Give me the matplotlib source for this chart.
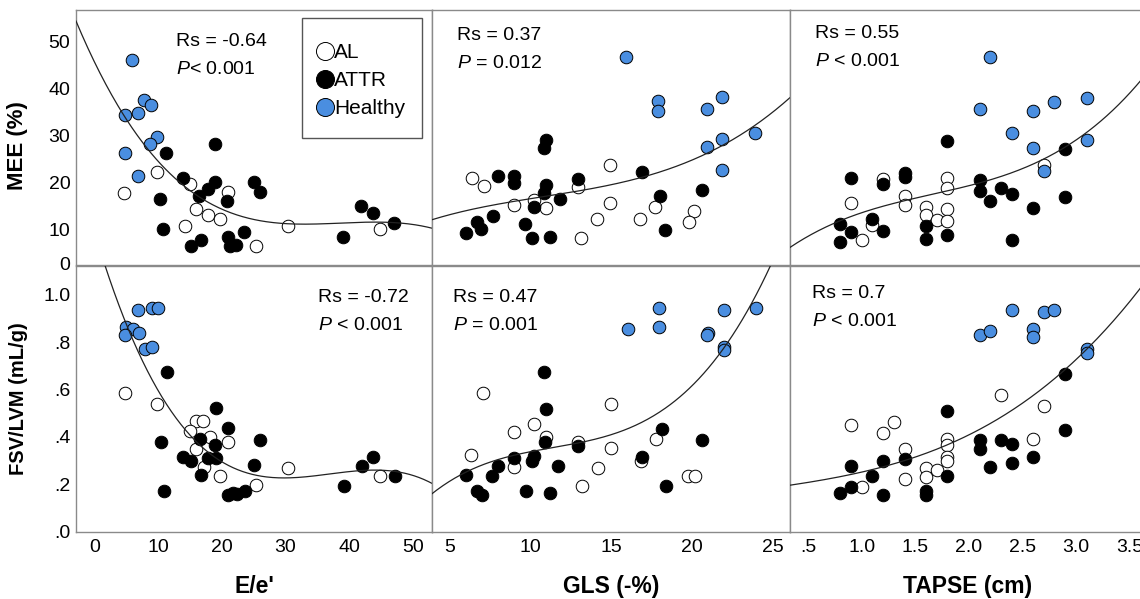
import matplotlib
matplotlib.use('Agg')
import matplotlib.pyplot as plt
from matplotlib.lines import Line2D
from matplotlib.patches import Rectangle
import numpy as np

plt.rcParams['font.family'] = ['Liberation Sans', 'DejaVu Sans']
plt.rcParams['mathtext.fontset'] = 'custom'
plt.rcParams['mathtext.rm'] = 'Liberation Sans'
plt.rcParams['mathtext.it'] = 'Liberation Sans:italic'

# data: (x, y) per group and panel
# E/e' vs MEE
ee_mee_al = [(4.65, 17.8), (9.8, 22.3), (15.0, 19.7), (20.9, 17.9), (15.9, 14.3), (17.9, 13.0),
             (19.7, 12.1), (14.2, 10.7), (25.4, 6.4), (30.4, 10.7), (44.8, 10.0)]
ee_mee_attr = [(11.2, 26.2), (19.0, 28.2), (13.9, 20.9), (19.0, 20.1), (17.9, 18.7), (16.5, 17.1),
               (10.3, 16.5), (20.8, 16.1), (25.0, 20.1), (26.0, 17.9), (10.8, 10.0), (15.1, 6.4),
               (16.7, 7.7), (20.9, 8.4), (21.3, 6.4), (22.2, 6.6), (23.5, 9.5), (39.0, 8.3),
               (41.9, 15.0), (43.7, 13.5), (47.0, 11.4)]
ee_mee_healthy = [(5.9, 46.2), (7.8, 37.5), (8.9, 36.4), (4.8, 34.4), (6.8, 34.7), (9.9, 29.7),
                  (8.8, 28.2), (4.8, 26.3), (6.8, 21.4)]

# GLS vs MEE
gls_mee_al = [(6.4, 21.0), (7.1, 19.2), (9.0, 15.2), (10.2, 16.2), (10.95, 14.6), (12.95, 19.1),
              (14.9, 23.7), (14.9, 15.7), (14.1, 12.3), (13.1, 8.2), (16.8, 12.2), (17.7, 14.8),
              (20.1, 13.8), (19.8, 11.5)]
gls_mee_attr = [(6.0, 9.3), (6.7, 11.6), (6.95, 10.0), (7.7, 12.8), (8.0, 21.4), (9.0, 21.4),
                (9.0, 19.9), (9.65, 11.1), (10.1, 8.2), (10.2, 14.8), (10.8, 27.3), (10.95, 29.0),
                (10.95, 19.4), (10.85, 17.8), (11.2, 8.3), (11.8, 16.4), (12.95, 20.7), (16.9, 22.3),
                (18.0, 17.2), (18.3, 9.9), (20.6, 18.4)]
gls_mee_healthy = [(15.9, 46.8), (17.9, 37.4), (17.9, 35.2), (20.9, 35.6), (21.85, 38.3),
                   (23.9, 30.6), (21.85, 29.2), (20.9, 27.6), (21.85, 22.6)]

# TAPSE vs MEE
tapse_mee_al = [(0.9, 15.7), (1.0, 7.7), (1.1, 10.9), (1.2, 20.7), (1.4, 17.0), (1.4, 15.2),
                (1.6, 14.7), (1.6, 13.0), (1.7, 12.0), (1.8, 20.9), (1.8, 18.9), (1.8, 14.3),
                (1.8, 11.8), (2.7, 23.7)]
tapse_mee_attr = [(0.9, 21.0), (0.8, 11.1), (0.8, 7.4), (0.9, 9.5), (1.1, 12.3), (1.2, 19.6),
                  (1.2, 9.6), (1.4, 21.9), (1.4, 21.2), (1.6, 10.6), (1.6, 7.9), (1.8, 28.9),
                  (1.8, 8.8), (2.1, 20.5), (2.1, 18.2), (2.2, 16.1), (2.3, 18.9), (2.4, 17.5),
                  (2.4, 7.7), (2.6, 14.5), (2.9, 27.1), (2.9, 16.9)]
tapse_mee_healthy = [(2.2, 46.8), (2.1, 35.6), (2.6, 35.2), (2.8, 37.2), (3.1, 38.1),
                     (2.4, 30.5), (2.6, 27.3), (3.1, 29.0), (2.7, 22.5)]

# E/e' vs FSV/LVM
ee_fsv_al = [(4.8, 0.585), (9.8, 0.539), (16.0, 0.465), (17.0, 0.468), (15.0, 0.423), (18.1, 0.398),
             (21.0, 0.378), (15.9, 0.35), (17.2, 0.274), (19.7, 0.235), (25.3, 0.194), (30.4, 0.267),
             (44.9, 0.232)]
ee_fsv_attr = [(11.4, 0.672), (19.1, 0.52), (20.9, 0.436), (10.5, 0.378), (16.6, 0.391), (18.9, 0.364),
               (26.0, 0.387), (13.9, 0.315), (15.1, 0.299), (17.9, 0.308), (19.1, 0.308), (25.0, 0.281),
               (16.7, 0.239), (10.9, 0.17), (20.9, 0.152), (21.7, 0.163), (22.4, 0.156), (23.6, 0.17),
               (39.1, 0.191), (42.0, 0.277), (43.8, 0.315), (47.1, 0.235)]
ee_fsv_healthy = [(6.9, 0.935), (9.0, 0.945), (10.0, 0.945), (5.0, 0.862), (6.1, 0.855),
                  (7.05, 0.838), (4.8, 0.83), (7.95, 0.769), (9.0, 0.779)]

# GLS vs FSV/LVM
gls_fsv_al = [(6.3, 0.322), (7.05, 0.585), (9.0, 0.419), (9.0, 0.271), (10.2, 0.454), (10.95, 0.398),
              (12.95, 0.378), (13.2, 0.191), (14.2, 0.267), (14.95, 0.539), (14.95, 0.354),
              (16.85, 0.299), (17.75, 0.391), (19.75, 0.232), (20.2, 0.232)]
gls_fsv_attr = [(6.0, 0.239), (6.7, 0.17), (7.0, 0.152), (7.6, 0.235), (8.0, 0.277), (9.0, 0.308),
                (9.7, 0.17), (10.1, 0.299), (10.2, 0.318), (10.8, 0.672), (10.95, 0.516), (10.9, 0.378),
                (11.2, 0.16), (11.7, 0.277), (12.95, 0.36), (16.9, 0.313), (18.1, 0.433), (18.4, 0.191),
                (20.6, 0.387)]
gls_fsv_healthy = [(16.0, 0.855), (17.95, 0.945), (17.95, 0.862), (21.0, 0.838), (20.9, 0.83),
                   (21.95, 0.935), (21.95, 0.779), (21.95, 0.765), (23.95, 0.945)]

# TAPSE vs FSV/LVM
tapse_fsv_al = [(0.9, 0.449), (1.0, 0.188), (1.2, 0.415), (1.3, 0.463), (1.4, 0.35), (1.4, 0.221),
                (1.6, 0.267), (1.6, 0.23), (1.7, 0.26), (1.8, 0.391), (1.8, 0.364), (1.8, 0.315),
                (1.8, 0.299), (2.3, 0.578), (2.7, 0.532), (2.6, 0.391)]
tapse_fsv_attr = [(0.8, 0.163), (0.9, 0.188), (0.9, 0.277), (1.1, 0.232), (1.2, 0.299),
                  (1.2, 0.152), (1.4, 0.304), (1.6, 0.17), (1.6, 0.152), (1.8, 0.509), (1.8, 0.232),
                  (2.1, 0.385), (2.1, 0.35), (2.2, 0.274), (2.3, 0.385), (2.4, 0.371), (2.4, 0.29),
                  (2.6, 0.313), (2.9, 0.664), (2.9, 0.429)]
tapse_fsv_healthy = [(2.1, 0.83), (2.2, 0.848), (2.4, 0.935), (2.6, 0.855), (2.6, 0.82),
                     (2.7, 0.927), (2.8, 0.935), (3.1, 0.772), (3.1, 0.755)]

# points (a cubic is fitted through them)
ee_mee_fit = [(-2.87, 54.3), (4.45, 34.4), (8.5, 27.6), (14.5, 19.1), (19.2, 14.5), (24.9, 11.6),
              (30.4, 11.1), (37.5, 11.4), (44.8, 12.0), (52.6, 10.1)]
gls_mee_fit = [(3.87, 12.0), (9.3, 16.2), (13.4, 18.4), (17.5, 21.6), (20.8, 26.2), (23.65, 31.5),
               (25.95, 37.8)]
tapse_mee_fit = [(0.33, 6.3), (0.85, 12.0), (1.48, 16.6), (2.1, 20.1), (2.73, 25.5), (3.2, 31.9),
                 (3.6, 41.8)]
ee_fsv_fit = [(1.68, 1.12), (5.86, 0.84), (10.8, 0.537), (14.5, 0.426), (19.7, 0.30), (24.9, 0.246),
              (30.2, 0.229), (37.5, 0.239), (42.7, 0.26), (47.9, 0.246), (53.0, 0.205)]
gls_fsv_fit = [(3.9, 0.152), (6.0, 0.26), (9.3, 0.329), (13.0, 0.37), (15.9, 0.426), (18.7, 0.537),
               (21.6, 0.744), (23.65, 0.98), (24.9, 1.117)]
tapse_fsv_fit = [(0.33, 0.2), (0.86, 0.225), (1.33, 0.288), (1.79, 0.378), (2.26, 0.474), (2.73, 0.606),
                 (3.1, 0.772), (3.6, 1.028)]

group_names = ['AL', 'ATTR', 'Healthy']
group_colors = ['white', 'black', '#4a8ee0']

stats_text = [['Rs = -0.64', r'$P$< 0.001'], ['Rs = 0.37', r'$P$ = 0.012'], ['Rs = 0.55', r'$P$ < 0.001'],
              ['Rs = -0.72', r'$P$ < 0.001'], ['Rs = 0.47', r'$P$ = 0.001'], ['Rs = 0.7', r'$P$ < 0.001']]

x_labels = ["E/e'", 'GLS (-%)', 'TAPSE (cm)']
y_labels = ['MEE (%)', 'FSV/LVM (mL/g)']

x_ticks = [[0, 10, 20, 30, 40, 50], [5, 10, 15, 20, 25], [0.5, 1.0, 1.5, 2.0, 2.5, 3.0, 3.5]]
x_ticklabels = [['0', '10', '20', '30', '40', '50'], ['5', '10', '15', '20', '25'],
                ['.5', '1.0', '1.5', '2.0', '2.5', '3.0', '3.5']]
mee_ticks = [2.75, 10, 20, 30, 40, 50]
mee_ticklabels = ['0', '10', '20', '30', '40', '50']
fsv_ticks = [0.0, 0.2, 0.4, 0.6, 0.8, 1.0]
fsv_ticklabels = ['.0', '.2', '.4', '.6', '.8', '1.0']

W, H = 1140, 599
cols = [(76, 432), (432, 790), (790, 1146)]
rows = [(10, 265), (266, 532)]
xlims = [(-2.87, 52.98), (3.9, 26.05), (0.329, 3.656)]
ylims = [(2.39, 56.76), (-0.003, 1.122)]

# text anchors (pixels): left x, centre y of the Rs line
text_pos = [(176, 42), (457, 36), (815, 34), (318, 297), (453, 297), (812, 293)]

panels = [
    [ee_mee_al, ee_mee_attr, ee_mee_healthy],
    [gls_mee_al, gls_mee_attr, gls_mee_healthy],
    [tapse_mee_al, tapse_mee_attr, tapse_mee_healthy],
    [ee_fsv_al, ee_fsv_attr, ee_fsv_healthy],
    [gls_fsv_al, gls_fsv_attr, gls_fsv_healthy],
    [tapse_fsv_al, tapse_fsv_attr, tapse_fsv_healthy],
]
fits = [ee_mee_fit, gls_mee_fit, tapse_mee_fit, ee_fsv_fit, gls_fsv_fit, tapse_fsv_fit]

fig = plt.figure(figsize=(W / 100, H / 100), dpi=100)

for i, groups in enumerate(panels):
    r, c = divmod(i, 3)
    l, rr = cols[c]
    t, b = rows[r]
    ax = fig.add_axes([l / W, 1 - b / H, (rr - l) / W, (b - t) / H])

    for pts, color, name in zip(groups, group_colors, group_names):
        x = [p[0] for p in pts]
        y = [p[1] for p in pts]
        ax.scatter(x, y, s=82, c=color, edgecolors='black', linewidths=0.7, zorder=3, label=name)

    # cubic fit line
    fx = [p[0] for p in fits[i]]
    fy = [p[1] for p in fits[i]]
    coef = np.polyfit(fx, fy, 3)
    xs = np.linspace(xlims[c][0], xlims[c][1], 300)
    ax.plot(xs, np.polyval(coef, xs), color='#222222', lw=0.9, zorder=4)

    ax.set_xlim(xlims[c])
    ax.set_ylim(ylims[r])
    ax.tick_params(length=0, labelsize=14, pad=4)

    if r == 1:
        ax.set_xticks(x_ticks[c])
        ax.set_xticklabels(x_ticklabels[c])
        ax.tick_params(axis='x', pad=5)
        ax.set_xlabel(x_labels[c], fontsize=16.5, fontweight='bold')
        ax.xaxis.set_label_coords(0.5, -0.16)
    else:
        ax.set_xticks([])
    if c == 0:
        if r == 0:
            ax.set_yticks(mee_ticks)
            ax.set_yticklabels(mee_ticklabels)
            ax.set_ylabel(y_labels[r], fontsize=16, fontweight='bold')
            ax.yaxis.set_label_coords(-0.135, 0.47)
        else:
            ax.set_yticks(fsv_ticks)
            ax.set_yticklabels(fsv_ticklabels)
            ax.set_ylabel(y_labels[r], fontsize=14.5, fontweight='bold')
            ax.yaxis.set_label_coords(-0.135, 0.5)
    else:
        ax.set_yticks([])

    for s in ax.spines.values():
        s.set_color('#8a8a8a')
        s.set_linewidth(1.0)

    tx, ty = text_pos[i]
    fig.text(tx / W, 1 - ty / H, stats_text[i][0], fontsize=14, va='center', ha='left')
    fig.text(tx / W, 1 - (ty + 28) / H, stats_text[i][1], fontsize=14, va='center', ha='left')

    if i == 0:
        # legend box drawn separately so its padding matches the original
        ax.add_patch(Rectangle((301.7 / W, 1 - 138.3 / H), 120 / W, 120 / H,
                               transform=fig.transFigure, clip_on=False, facecolor='white',
                               edgecolor='#555555', lw=1.0, zorder=5))
        handles = [Line2D([], [], ls='', marker='o', ms=13, mfc=col, mec='black', mew=0.7)
                   for col in group_colors]
        leg = ax.legend(handles, group_names, loc='center left',
                        bbox_to_anchor=(315.5 / W, 1 - 80.6 / H), bbox_transform=fig.transFigure,
                        fontsize=15, frameon=False, handlelength=0.9, handletextpad=0.0,
                        labelspacing=0.42, borderpad=0, borderaxespad=0)
        leg.set_zorder(6)

fig.savefig('out.png', dpi=100)
